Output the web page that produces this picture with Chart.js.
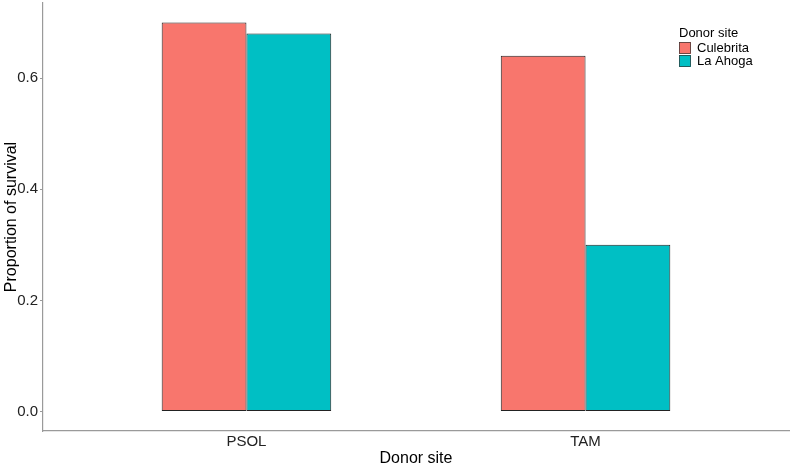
<!DOCTYPE html>
<html>
<head>
<meta charset="utf-8">
<script src="https://cdn.jsdelivr.net/npm/chart.js@4.4.0/dist/chart.umd.min.js"></script>
<style>
  html, body { margin: 0; padding: 0; background: #fff; }
  #wrap { width: 794px; height: 468px; }
</style>
</head>
<body>
<div id="wrap"><canvas id="myChart" width="794" height="468"></canvas></div>
<script>
const categories = ['PSOL', 'TAM'];
const seriesNames = ['Culebrita', 'La Ahoga'];
const culebrita = [0.70, 0.64];
const laAhoga = [0.68, 0.30];
const yTicks = [0, 0.2, 0.4, 0.6];
const colors = ['#F8766D', '#00BFC4'];

const font = "'Liberation Sans', Arial, sans-serif";

// ggplot-style legend sitting inside the panel, top right
const insideLegend = {
    id: 'insideLegend',
    afterDraw(chart) {
        const ctx = chart.ctx;
        const x = 679, y = 33;
        ctx.save();
        ctx.fillStyle = '#000';
        ctx.font = '13px ' + font;
        ctx.textBaseline = 'middle';
        ctx.textAlign = 'left';
        ctx.fillText('Donor site', x, y);
        seriesNames.forEach((name, i) => {
            const top = 42 + i * 13;
            ctx.fillStyle = colors[i];
            ctx.fillRect(x, top, 12, 12);
            ctx.strokeStyle = '#333';
            ctx.lineWidth = 0.7;
            ctx.strokeRect(x + 0.5, top + 0.5, 11, 11);
            ctx.fillStyle = '#000';
            ctx.fillText(name, x + 18, top + 6.5);
        });
        ctx.restore();
    }
};

document.addEventListener('DOMContentLoaded', function() {
    const ctx = document.getElementById('myChart').getContext('2d');

    const data = {
        datasets: [culebrita, laAhoga].map((vals, i) => ({
            label: seriesNames[i],
            data: vals.map((v, j) => ({ x: j + 1, y: v })),
            backgroundColor: colors[i],
            borderColor: '#222',
            borderWidth: 1,
            borderSkipped: false,
            categoryPercentage: 0.5,
            barPercentage: 1.0
        }))
    };

    const config = {
        type: 'bar',
        data: data,
        plugins: [insideLegend],
        options: {
            responsive: false,
            animation: false,
            layout: { padding: { top: 3, right: 5, left: 0, bottom: 0 } },
            plugins: {
                legend: { display: false },
                tooltip: { enabled: false }
            },
            scales: {
                x: {
                    type: 'linear',
                    offset: false,
                    min: 0.4,
                    max: 2.6,
                    afterBuildTicks: s => { s.ticks = categories.map((c, i) => ({ value: i + 1 })); },
                    afterFit: s => { s.height = 37; s.paddingLeft = 0; s.paddingRight = 0; },
                    ticks: {
                        callback: v => categories[v - 1],
                        color: '#222',
                        font: { family: font, size: 15 },
                        padding: 2,
                        maxRotation: 0
                    },
                    grid: { display: false, drawTicks: false },
                    border: { display: true, color: '#9a9a9a', width: 1.2 },
                    title: {
                        display: true,
                        text: 'Donor site',
                        color: '#000',
                        font: { family: font, size: 16 },
                        padding: { top: 0, bottom: 0 }
                    }
                },
                y: {
                    min: -0.035,
                    max: 0.735,
                    afterBuildTicks: s => { s.ticks = yTicks.map(v => ({ value: v })); },
                    afterFit: s => { s.width = 43; s.paddingTop = 0; s.paddingBottom = 0; },
                    ticks: {
                        callback: v => v.toFixed(1),
                        color: '#222',
                        font: { family: font, size: 15 },
                        padding: 2
                    },
                    grid: {
                        drawOnChartArea: false,
                        drawTicks: true,
                        tickLength: 3,
                        color: '#9a9a9a'
                    },
                    border: { display: true, color: '#9a9a9a', width: 1.2 },
                    title: {
                        display: true,
                        text: 'Proportion of survival',
                        color: '#000',
                        font: { family: font, size: 16 },
                        padding: { top: 2, bottom: 0 }
                    }
                }
            }
        }
    };

    new Chart(ctx, config);
});
</script>
</body>
</html>
